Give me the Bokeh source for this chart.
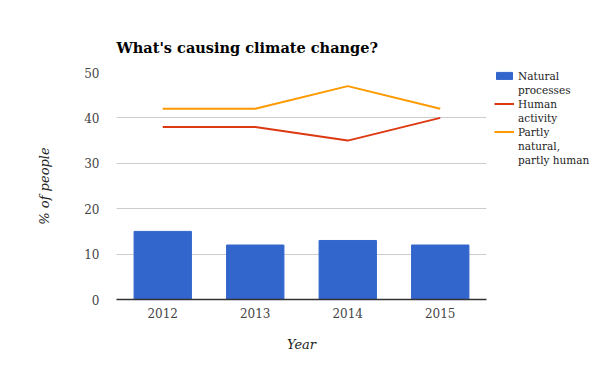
from bokeh.plotting import figure
from bokeh.models import ColumnDataSource, Legend, LegendItem, SingleIntervalTicker
from bokeh.embed import file_html
from bokeh.resources import INLINE

years = ["2012", "2013", "2014", "2015"]
natural = [15, 12, 13, 12]
human = [38, 38, 35, 40]
partly = [42, 42, 47, 42]
legend_lines = [["Natural", "processes"], ["Human", "activity"],
                ["Partly", "natural,", "partly human"]]

src = ColumnDataSource(dict(years=years, natural=natural, human=human, partly=partly))

FONT = "DejaVu Serif"

p = figure(x_range=years, y_range=(0, 50), frame_width=370, frame_height=227,
           output_backend="svg", toolbar_location=None,
           min_border_left=116, min_border_right=0, min_border_top=72, min_border_bottom=64)

r_bar = p.vbar(x="years", top="natural", width=0.62, source=src, color="#3366cc")
r_h = p.line(x="years", y="human", source=src, color="#dc3912", line_width=2)
r_p = p.line(x="years", y="partly", source=src, color="#ff9900", line_width=2)
blank = p.line(x=[], y=[], line_alpha=0)

p.title.text = "What's causing climate change?"
p.title.text_font = FONT
p.title.text_font_size = "14.5px"
p.title.text_font_style = "bold"
p.title.text_color = "#000000"
p.title.offset = 0
p.title.standoff = 33

p.outline_line_color = None
p.xgrid.grid_line_color = None
p.ygrid.grid_line_color = "#cccccc"
p.yaxis.ticker = SingleIntervalTicker(interval=10)
p.yaxis.axis_line_color = None
p.yaxis.major_tick_line_color = None
p.yaxis.minor_tick_line_color = None
p.yaxis.major_tick_out = 0
p.xaxis.major_tick_out = 0
p.xaxis.major_tick_line_color = None
p.xaxis.axis_line_color = "#333333"
p.xaxis.axis_line_width = 1.5
for ax in (p.xaxis, p.yaxis):
    ax.major_label_text_font = FONT
    ax.major_label_text_font_size = "12px"
    ax.major_label_text_color = "#444444"
    ax.axis_label_text_font = FONT
    ax.axis_label_text_font_size = "13px"
    ax.axis_label_text_font_style = "italic"
    ax.axis_label_text_color = "#222222"
p.xaxis.axis_label = "Year"
p.yaxis.axis_label = "% of people"
p.yaxis.major_label_standoff = 13
p.xaxis.major_label_standoff = 8
p.yaxis.axis_label_standoff = 29
p.xaxis.axis_label_standoff = 16

items = []
for rend, lines in zip([r_bar, r_h, r_p], legend_lines):
    items.append(LegendItem(label=lines[0], renderers=[rend]))
    for extra in lines[1:]:
        items.append(LegendItem(label=extra, renderers=[blank]))

legend = Legend(items=items, location=(8, 133), border_line_color=None,
                background_fill_alpha=0,
                label_text_font=FONT, label_text_font_size="10.5px",
                label_text_color="#222222",
                glyph_width=20, glyph_height=9, label_height=13, spacing=1,
                padding=0, margin=0, label_standoff=4)
p.add_layout(legend, "right")

open("out.html", "w").write(file_html(p, INLINE))
